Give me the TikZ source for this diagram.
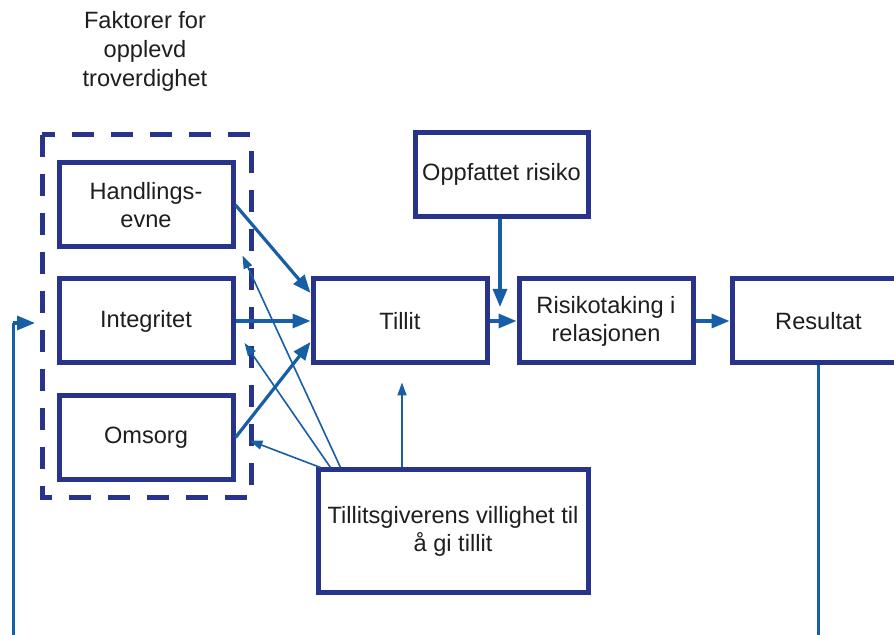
\documentclass[tikz,border=0pt]{standalone}
\usepackage{fontspec}
\setmainfont{Liberation Sans}
\usetikzlibrary{arrows.meta,calc}
\definecolor{boxc}{RGB}{40,52,140}
\definecolor{arrc}{RGB}{22,94,166}
\definecolor{txtc}{RGB}{30,30,30}
\tikzset{
  fbox/.style={draw=boxc,line width=2.5pt,minimum width=87pt,minimum height=42pt,
    inner sep=0pt,align=center,text=txtc,font=\fontsize{11.8}{14}\selectfont},
  thickarr/.style={draw=arrc,line width=1.6pt,-{Triangle[length=9pt,width=7pt]}},
  thinarr/.style={draw=arrc,line width=0.8pt,-{Triangle[length=6.5pt,width=4.5pt]}},
  fbline/.style={draw=arrc,line width=1.5pt},
  dashbox/.style={draw=boxc,line width=2.5pt,dash pattern=on 11pt off 8.5pt}
}
\begin{document}
\begin{tikzpicture}[x=0.5pt,y=-0.5pt]
\useasboundingbox (0,0) rectangle (894,635);
\clip (0,0) rectangle (894,635);
\fill[white] (0,0) rectangle (894,635);
% title
\node[align=center,text=txtc,font=\fontsize{11.8}{14.5}\selectfont] (title) at (145,51) {Faktorer for\\opplevd\\troverdighet};
% dashed group
\draw[dashbox] (42,135) rectangle (251,498);
% boxes
\node[fbox] (hand) at (146,205) {Handlings-\\evne};
\node[fbox] (integ) at (146,321) {Integritet};
\node[fbox] (oms) at (146,437.5) {Omsorg};
\node[fbox] (tillit) at (400,321) {Tillit};
\node[fbox,minimum width=86.5pt] (oppf) at (501.5,174.5) {Oppfattet risiko};
\node[fbox] (risk) at (606,321) {Risikotaking i\\relasjonen};
\node[fbox,minimum width=86.5pt] (res) at (818.5,321) {Resultat};
\node[fbox,minimum width=135pt,minimum height=61.5pt] (villig) at (453,531.5) {Tillitsgiverens villighet til\\å gi tillit};
% coordinates for arrow ends
\coordinate (hT) at ($(tillit.west)+(0,-28)$);
\coordinate (oT) at ($(tillit.west)+(0,21)$);
\coordinate (vH) at ($(hand.south east)+(7,6)$);
\coordinate (vI) at ($(integ.east)+(9,22)$);
\coordinate (vO) at ($(oms.east)+(14,3)$);
\coordinate (vT) at ($(tillit.south)+(2,17)$);
\coordinate (oR) at (500,307);
\coordinate (fb1) at (818,650);
\coordinate (fb2) at (13,650);
\coordinate (fb3) at (13,323);
\coordinate (fb4) at (35,323);
% factor arrows to Tillit
\draw[thickarr] (hand.east) -- (hT);
\draw[thickarr] (integ.east) -- (tillit.west);
\draw[thickarr] (oms.east) -- (oT);
% thin arrows from villighet
\draw[thinarr] ($(villig.north west)+(25,0)$) -- (vH);
\draw[thinarr] ($(villig.north west)+(15,0)$) -- (vI);
\draw[thinarr] ($(villig.north west)+(5,0)$) -- (vO);
\draw[thinarr] (villig.north -| vT) -- (vT);
% main chain
\draw[thickarr] (oppf.south -| oR) -- (oR);
\draw[thickarr] (tillit.east) -- (risk.west);
\draw[thickarr] (risk.east) -- (res.west);
% feedback loop
\draw[fbline] (res.south -| fb1) -- (fb1) -- (fb2) -- (fb3);
\draw[thickarr] (fb3) -- (fb4);
\end{tikzpicture}
\end{document}
